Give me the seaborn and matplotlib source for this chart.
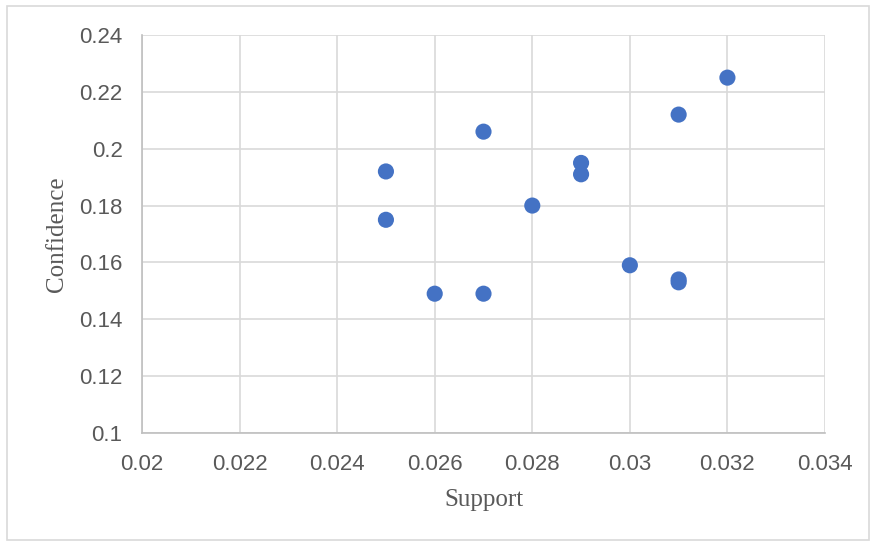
import matplotlib
matplotlib.use("Agg")
import matplotlib.pyplot as plt
import seaborn as sns
import pandas as pd
from matplotlib.patches import Rectangle

support = [0.025, 0.025, 0.026, 0.027, 0.027, 0.028, 0.029, 0.029, 0.030, 0.031, 0.031, 0.031, 0.032]
confidence = [0.192, 0.175, 0.149, 0.206, 0.149, 0.180, 0.195, 0.191, 0.159, 0.212, 0.154, 0.153, 0.225]
x_ticks = [0.02, 0.022, 0.024, 0.026, 0.028, 0.03, 0.032, 0.034]
y_ticks = [0.1, 0.12, 0.14, 0.16, 0.18, 0.2, 0.22, 0.24]

df = pd.DataFrame({"Support": support, "Confidence": confidence})

sns.set_theme(style="white")
fig = plt.figure(figsize=(8.72, 5.42), dpi=100)
ax = fig.add_axes([142 / 872, 1 - 433 / 542, (825 - 142) / 872, (433 - 35) / 542])

sns.scatterplot(data=df, x="Support", y="Confidence", ax=ax, color="#4472C4",
                s=135, edgecolor="none", zorder=3)

ax.set_xlim(0.02, 0.034)
ax.set_ylim(0.1, 0.24)
ax.set_xticks(x_ticks)
ax.set_yticks(y_ticks)
ax.set_xticklabels([f"{v:g}" for v in x_ticks])
ax.set_yticklabels([f"{v:g}" for v in y_ticks])
ax.grid(True, color="#D9D9D9", linewidth=1.2)
ax.tick_params(axis="x", labelsize=16, labelcolor="#595959", length=0, pad=15)
ax.tick_params(axis="y", labelsize=16, labelcolor="#595959", length=0, pad=14)
for lbl in ax.get_xticklabels() + ax.get_yticklabels():
    lbl.set_family("Liberation Sans")
for side in ["top", "right"]:
    ax.spines[side].set_visible(False)
for side in ["left", "bottom"]:
    ax.spines[side].set_color("#BFBFBF")
    ax.spines[side].set_linewidth(1.2)

ax.set_xlabel("Support", family="Liberation Serif", fontsize=18, color="#595959", labelpad=10)
ax.set_ylabel("Confidence", family="Liberation Serif", fontsize=18, color="#595959", labelpad=8)

fig.patches.append(Rectangle((7 / 872, 2 / 542), 862 / 872, 534 / 542, transform=fig.transFigure,
                             fill=False, edgecolor="#D9D9D9", linewidth=1.2))

fig.savefig("out.png", dpi=100)
